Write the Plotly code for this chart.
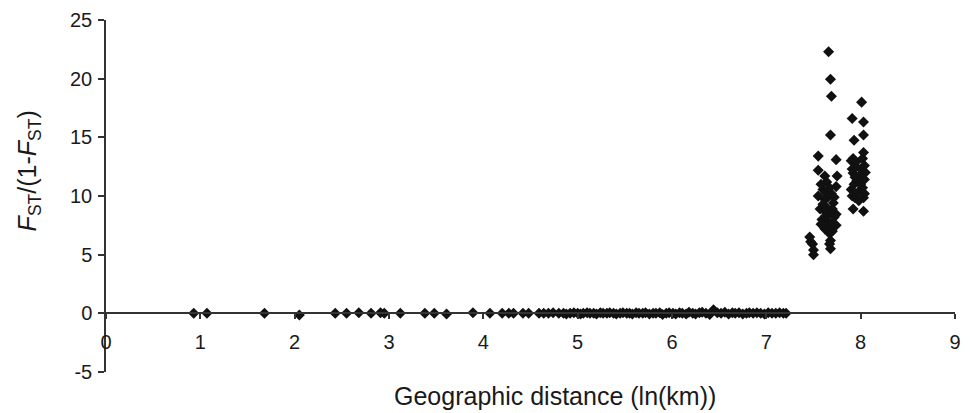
import plotly.graph_objects as go

# Near-zero pairs (geographic distance ln(km), Fst/(1-Fst))
near_x = [0.93, 1.07, 1.68, 2.05, 2.43, 2.55, 2.68, 2.81, 2.91, 2.95, 3.12, 3.38, 3.48, 3.61,
          3.89, 4.07, 4.20, 4.27, 4.32, 4.42, 4.48, 4.59, 4.64, 4.69, 4.74, 4.80, 4.85, 4.88,
          4.92, 4.96, 5.00, 5.03, 5.06, 5.10, 5.13, 5.17, 5.20, 5.24, 5.27, 5.31, 5.34, 5.38,
          5.41, 5.45, 5.48, 5.52, 5.55, 5.58, 5.62, 5.65, 5.69, 5.72, 5.76, 5.80, 5.83, 5.87,
          5.90, 5.94, 5.97, 6.01, 6.04, 6.08, 6.11, 6.15, 6.18, 6.22, 6.25, 6.29, 6.32, 6.36,
          6.40, 6.44, 6.48, 6.52, 6.56, 6.60, 6.64, 6.67, 6.71, 6.75, 6.79, 6.82, 6.86, 6.90,
          6.94, 6.98, 7.02, 7.06, 7.10, 7.14, 7.18, 7.21]
near_y = [0.00, 0.00, 0.00, -0.15, 0.00, 0.00, 0.05, 0.00, 0.05, 0.00, 0.00, 0.00, 0.00, -0.05,
          0.05, 0.00, 0.00, 0.00, 0.00, 0.00, 0.00, 0.00, 0.00, 0.00, 0.05, 0.00, 0.00, -0.05,
          0.00, 0.05, 0.00, -0.05, 0.00, 0.05, 0.00, 0.00, -0.05, 0.05, 0.00, 0.00, 0.05, 0.00,
          -0.05, 0.00, 0.05, 0.00, 0.00, -0.05, 0.05, 0.00, 0.00, 0.05, -0.05, 0.00, 0.00, 0.05,
          -0.10, 0.00, 0.05, 0.00, -0.05, 0.05, 0.00, -0.05, 0.10, 0.00, -0.05, 0.05, 0.10, 0.00,
          -0.10, 0.30, 0.05, 0.00, 0.10, -0.05, 0.05, 0.00, 0.05, -0.05, 0.00, 0.05, 0.00, 0.05,
          0.00, -0.05, 0.05, 0.00, 0.00, 0.05, 0.00, 0.00]

# High-distance cluster
far_x = [7.66, 7.68, 7.69, 7.68, 7.55, 7.74, 7.55, 7.62, 7.75, 7.74, 7.60, 7.55, 7.62, 7.71,
         7.57, 7.67, 7.74, 7.59, 7.66, 7.74, 7.62, 7.67, 7.46, 7.49, 7.68, 7.68, 7.50, 7.50,
         7.63, 7.65, 7.69, 7.60, 7.64, 7.70, 7.72, 7.63, 7.66, 7.70, 7.58, 7.64, 7.58, 7.72,
         7.67, 7.62, 7.69, 7.67, 7.47,
         8.01, 7.91, 8.03, 8.03, 7.93, 7.92, 8.03, 8.04, 7.92, 7.99, 8.02, 7.90, 7.94, 8.03,
         7.92, 8.03, 7.90, 7.95, 8.00, 7.91, 7.96, 8.04, 7.93, 8.00, 7.97, 7.91, 8.04, 7.98,
         7.95, 8.02, 7.94, 8.05]
far_y = [22.3, 19.95, 18.5, 15.2, 13.4, 13.1, 12.2, 11.7, 11.7, 10.8, 10.55, 10.0, 9.7, 9.4,
         8.9, 8.6, 8.45, 8.0, 7.75, 7.5, 7.2, 6.8, 6.5, 5.9, 6.2, 5.5, 5.4, 5.0,
         10.3, 9.9, 10.2, 9.3, 9.0, 8.9, 8.2, 8.3, 7.2, 7.0, 7.6, 11.2, 11.0, 9.9,
         10.7, 8.7, 7.6, 5.9, 6.1,
         18.0, 16.6, 16.3, 15.2, 14.75, 13.2, 13.7, 12.6, 11.95, 11.7, 10.7, 10.55, 9.85, 9.85,
         8.9, 8.7, 13.0, 12.9, 12.3, 12.3, 11.3, 11.4, 11.0, 11.0, 10.3, 10.0, 10.2, 9.6,
         12.5, 13.2, 11.6, 12.0]

x_ticks = [0, 1, 2, 3, 4, 5, 6, 7, 8, 9]
y_ticks = [-5, 0, 5, 10, 15, 20, 25]

FONT = "Liberation Sans, Arial, sans-serif"
INK = "#1a1a1a"

fig = go.Figure()
fig.add_trace(go.Scatter(
    x=near_x + far_x, y=near_y + far_y, mode="markers",
    marker=dict(symbol="diamond", size=8.5, color="#111111", line=dict(width=0)),
    showlegend=False,
))

fig.update_layout(
    width=970, height=413,
    margin=dict(l=106, r=9, t=15, b=41),
    paper_bgcolor="white", plot_bgcolor="white",
    font=dict(family=FONT, color=INK, size=20),
    xaxis=dict(
        range=[0, 9], tickvals=x_ticks, ticktext=[str(v) for v in x_ticks],
        showgrid=False, zeroline=False, showline=True, linecolor="#333333", linewidth=1.5,
        ticks="outside", ticklen=5, tickwidth=1.5, tickcolor="#333333",
        anchor="free", position=5/30, ticklabelstandoff=6,
        tickfont=dict(size=20, family=FONT, color=INK),
    ),
    yaxis=dict(
        range=[-5, 25], tickvals=y_ticks, ticktext=[str(v) for v in y_ticks],
        showgrid=False, zeroline=False, showline=True, linecolor="#333333", linewidth=1.5,
        ticks="outside", ticklen=6, tickwidth=1.5, tickcolor="#333333",
        domain=[0, 1], ticklabelstandoff=2,
        tickfont=dict(size=20, family=FONT, color=INK),
    ),
    annotations=[
        dict(text="Geographic distance (ln(km))", xref="paper", yref="paper",
             x=(558 - 106) / 855, y=-(396 - 372) / 357, xanchor="center", yanchor="middle",
             showarrow=False, font=dict(size=25, family=FONT, color=INK)),
        dict(text="<i>F</i><sub>ST</sub>/(1-<i>F</i><sub>ST</sub>)", xref="paper", yref="paper",
             x=-(106 - 28) / 855, y=(372 - 168) / 357, xanchor="center", yanchor="middle",
             textangle=-90, showarrow=False, font=dict(size=25, family=FONT, color=INK)),
    ],
)

fig.write_html(
    "out.html",
    config={"displayModeBar": False},
    post_script="document.body.style.margin='0';document.body.style.overflow='hidden';",
)
